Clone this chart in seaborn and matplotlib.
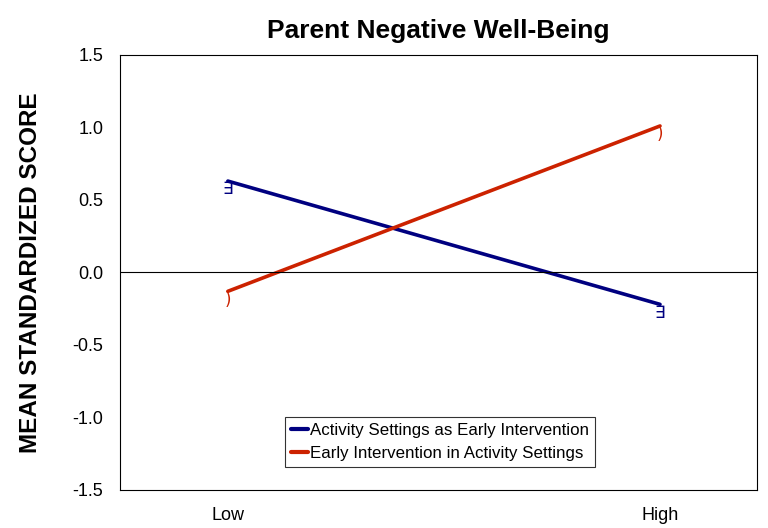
import matplotlib
matplotlib.use("Agg")
import pandas as pd
import seaborn as sns
import matplotlib.pyplot as plt

sns.set_style("white")
plt.rcParams['font.family'] = ['Liberation Sans', 'DejaVu Sans']
plt.rcParams.update({'text.color': 'black', 'axes.labelcolor': 'black',
                     'xtick.color': 'black', 'ytick.color': 'black'})

levels = ["Low", "High"]
series_names = ["Activity Settings as Early Intervention",
                "Early Intervention in Activity Settings"]
activity_as_ei = [0.63, -0.22]
ei_in_activity = [-0.13, 1.01]
colors = ["#000080", "#CC2200"]
marker_glyphs = ["∃", ")"]

df = pd.DataFrame({
    "x": [0, 1, 0, 1],
    "level": levels * 2,
    "score": activity_as_ei + ei_in_activity,
    "group": [series_names[0]] * 2 + [series_names[1]] * 2,
})

fig = plt.figure(figsize=(7.68, 5.28), dpi=100)
ax = fig.add_axes([0.156, 0.072, 0.83, 0.824])

sns.lineplot(data=df, x="x", y="score", hue="group", palette=colors,
             linewidth=2.6, ax=ax, legend=False)

# glyph markers, slightly offset like the original
for (name, vals), col, g in zip(zip(series_names, [activity_as_ei, ei_in_activity]), colors, marker_glyphs):
    for xi, v in enumerate(vals):
        ax.annotate(g, (xi, v), xytext=(0, -6), textcoords="offset points",
                    ha="center", va="center", color=col, fontsize=12,
                    family="DejaVu Sans")

ax.axhline(0, color="black", linewidth=0.8)

ax.set_xlim(-0.25, 1.225)
ax.set_ylim(-1.5, 1.5)
ax.set_xticks([0, 1])
ax.set_xticklabels(levels, fontsize=13)
ax.set_yticks([-1.5, -1.0, -0.5, 0.0, 0.5, 1.0, 1.5])
ax.set_yticklabels([f"{t:.1f}" for t in ax.get_yticks()], fontsize=13)
ax.tick_params(axis="both", length=0, pad=12)
ax.set_xlabel("")
ax.set_ylabel("MEAN STANDARDIZED SCORE", fontsize=17.5, fontweight="bold", labelpad=22)
ax.set_title("Parent Negative Well-Being", fontsize=19, fontweight="bold", pad=12)

for s in ax.spines.values():
    s.set_visible(True)
    s.set_color("black")
    s.set_linewidth(0.8)

handles = [plt.Line2D([], [], color=c, linewidth=3) for c in colors]
leg = ax.legend(handles, series_names, loc="center",
                bbox_to_anchor=(440 / 768, 1 - 442 / 528),
                bbox_transform=fig.transFigure, fontsize=12.2,
                frameon=True, fancybox=False, edgecolor="black",
                handlelength=1.0, handletextpad=0.1, borderpad=0.35,
                labelspacing=0.45, borderaxespad=0)
leg.get_frame().set_linewidth(0.8)

fig.savefig("out.png", dpi=100)
